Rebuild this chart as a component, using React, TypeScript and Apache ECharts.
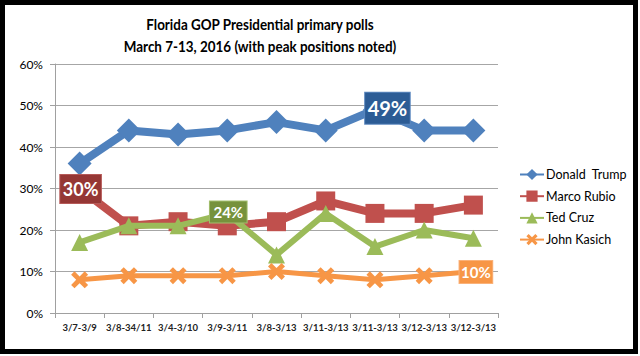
import React, { useEffect, useRef } from "react";
import * as echarts from "echarts";

const categories = ["3/7-3/9", "3/8-34/11", "3/4-3/10", "3/9-3/11", "3/8-3/13", "3/11-3/13", "3/11-3/13", "3/12-3/13", "3/12-3/13"];
const seriesNames = ["Donald  Trump", "Marco Rubio", "Ted Cruz", "John Kasich"];
const trump = [36, 44, 43, 44, 46, 44, 49, 44, 44];
const rubio = [30, 21, 22, 21, 22, 27, 24, 24, 26];
const cruz = [17, 21, 21, 24, 14, 24, 16, 20, 18];
const kasich = [8, 9, 9, 9, 10, 9, 8, 9, 10];
const peakIndex = [6, 0, 3, 8];
const yTicks = [0, 10, 20, 30, 40, 50, 60];

const titleLines = ["Florida GOP Presidential primary polls", "March 7-13, 2016 (with peak positions noted)"];

const FONT = "Lato, 'Open Sans', sans-serif";

const X_PATH = "path://M0,2 L2,0 L5,3 L8,0 L10,2 L7,5 L10,8 L8,10 L5,7 L2,10 L0,8 L3,5 Z";

export default function App() {
  const ref = useRef<HTMLDivElement>(null);
  useEffect(() => {
    if (!ref.current) return;
    const chart = echarts.init(ref.current, null, { renderer: "svg" });

    const styles = [
      { color: "#4F81BD", width: 8, symbol: "diamond", size: 24, box: "#2C5C95", boxBorder: "#5B87BE", fs: 20, lh: 22, pad: [4.5, 2.5], offset: [12.5, -1.5] },
      { color: "#C0504D", width: 8, symbol: "rect", size: 19, box: "#953735", boxBorder: "#B65A58", fs: 18, lh: 20, pad: [4, 2.5], offset: [1, 0.5] },
      { color: "#9BBB59", width: 6, symbol: "triangle", size: 17, box: "#76923C", boxBorder: "#A3BF6E", fs: 15, lh: 17, pad: [2, 3.5], offset: [1, -1.5] },
      { color: "#F79646", width: 5, symbol: X_PATH, size: 17, box: "#F79646", boxBorder: "#FAB27A", fs: 15, lh: 17, pad: [2.5, 1.5], offset: [2.5, 0.5] },
    ];
    const allData = [trump, rubio, cruz, kasich];

    const series = allData.map((vals, si) => {
      const s = styles[si];
      return {
        name: seriesNames[si],
        type: "line",
        z: 2 + si,
        symbol: s.symbol,
        symbolSize: s.size,
        lineStyle: { color: s.color, width: s.width },
        itemStyle: { color: s.color },
        data: vals.map((v, i) =>
          i === peakIndex[si]
            ? {
                value: v,
                label: {
                  show: true,
                  position: "inside",
                  offset: s.offset,
                  formatter: "{c}%",
                  color: "#FFFFFF",
                  fontFamily: FONT,
                  fontWeight: "bold",
                  fontSize: s.fs,
                  lineHeight: s.lh,
                  backgroundColor: s.box,
                  borderColor: s.boxBorder,
                  borderWidth: 1,
                  padding: s.pad,
                },
              }
            : v
        ),
      };
    });

    const titleStyle = { fontFamily: FONT, fontWeight: "bold", fontSize: 16, fill: "#000", textAlign: "center", textVerticalAlign: "middle" };

    chart.setOption({
      animation: false,
      backgroundColor: "#FFFFFF",
      grid: { left: 55, right: 142, top: 64, bottom: 43, containLabel: false },
      legend: {
        orient: "vertical",
        left: 514,
        top: 163,
        itemWidth: 24,
        itemHeight: 14,
        itemGap: 8.7,
        data: seriesNames,
        textStyle: { fontFamily: FONT, fontSize: 12.5, color: "#000", padding: [0, 0, 0, -3] },
      },
      xAxis: {
        type: "category",
        data: categories,
        boundaryGap: true,
        axisLine: { lineStyle: { color: "#A0A0A0", width: 1 } },
        axisTick: { show: true, length: 5, lineStyle: { color: "#A0A0A0" } },
        axisLabel: { fontFamily: FONT, fontSize: 9.5, fontWeight: "bold", color: "#222", margin: 9, interval: 0 },
        splitLine: { show: false },
      },
      yAxis: {
        type: "value",
        min: yTicks[0],
        max: yTicks[yTicks.length - 1],
        interval: 10,
        axisLine: { show: true, lineStyle: { color: "#A0A0A0", width: 1 } },
        axisTick: { show: true, length: 5, lineStyle: { color: "#A0A0A0" } },
        axisLabel: { fontFamily: FONT, fontSize: 12, color: "#000", formatter: "{value}%", margin: 12 },
        splitLine: { show: true, lineStyle: { color: "#A6A6A6", width: 1 } },
      },
      graphic: [
        {
          type: "rect",
          shape: { x: 2.5, y: 2.5, width: 633, height: 349 },
          style: { fill: "none", stroke: "#000", lineWidth: 5 },
          z: 100,
        },
        { type: "text", x: 260, y: 24, scaleX: 0.84, style: { ...titleStyle, text: titleLines[0] } },
        { type: "text", x: 260, y: 46, scaleX: 0.84, style: { ...titleStyle, text: titleLines[1] } },
      ],
      series,
    });
    return () => chart.dispose();
  }, []);
  return <div ref={ref} style={{ position: "absolute", left: 0, top: 0, width: 640, height: 356 }} />;
}
